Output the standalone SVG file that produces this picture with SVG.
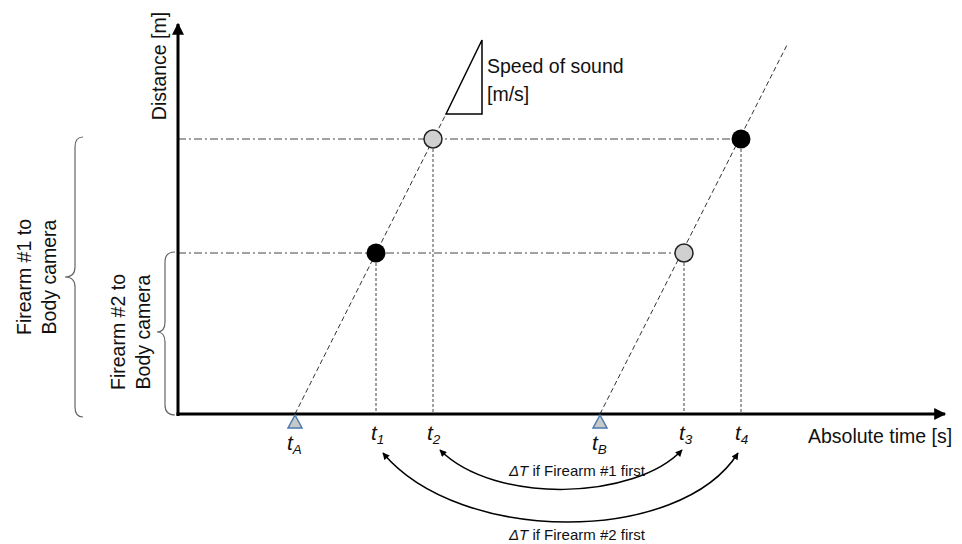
<svg xmlns="http://www.w3.org/2000/svg" width="962" height="544" viewBox="0 0 962 544">
<style>
text{font-family:"Liberation Sans",Arial,sans-serif;fill:#111}
.lbl{font-size:19.5px}
.t{font-size:21px;font-style:italic}
.sub{font-size:13.5px;font-style:italic}
.dt{font-size:15px}
.dashdot{stroke:#444;stroke-width:1;stroke-dasharray:8 3 2 3;fill:none}
.dot{stroke:#444;stroke-width:1;stroke-dasharray:3 2;fill:none}
.dash{stroke:#333;stroke-width:1;stroke-dasharray:5 3;fill:none}
.brace{stroke:#666;stroke-width:1.2;fill:none}
.arc{stroke:#000;stroke-width:1.5;fill:none;marker-start:url(#ah);marker-end:url(#ah)}
.tri{fill:#c8c8c8;stroke:#4a7ab0;stroke-width:1.5}
</style>
<defs>
<marker id="ah" viewBox="0 0 10 10" refX="9" refY="5" markerWidth="8" markerHeight="7" markerUnits="userSpaceOnUse" orient="auto-start-reverse">
<path d="M0,0 L10,5 L0,10 z" fill="#000"/>
</marker>
<marker id="axh" viewBox="0 0 10 10" refX="9" refY="5" markerWidth="14" markerHeight="12" markerUnits="userSpaceOnUse" orient="auto">
<path d="M0,0 L10,5 L0,10 z" fill="#000"/>
</marker>
</defs>
<g id="guides">
<line class="dashdot" x1="178" y1="139" x2="741" y2="139"/>
<line class="dashdot" x1="178" y1="253" x2="684" y2="253"/>
<line class="dot" x1="376" y1="253" x2="376" y2="414"/>
<line class="dot" x1="433" y1="139" x2="433" y2="414"/>
<line class="dot" x1="684" y1="253" x2="684" y2="414"/>
<line class="dot" x1="741" y1="139" x2="741" y2="414"/>
<line class="dash" x1="295" y1="414" x2="446" y2="114"/>
<line class="dash" x1="600" y1="414" x2="787" y2="45"/>
</g>
<g id="axes">
<line x1="178" y1="416" x2="178" y2="24" stroke="#000" stroke-width="3" marker-end="url(#axh)"/>
<line x1="176.5" y1="414" x2="945" y2="414" stroke="#000" stroke-width="3" marker-end="url(#axh)"/>
<text class="lbl" transform="translate(166,66) rotate(-90)" text-anchor="middle">Distance [m]</text>
<text class="lbl" x="808" y="443">Absolute time [s]</text>
</g>
<g id="speed-triangle">
<polygon points="446,114 482,40 482,114" fill="#fff" stroke="#000" stroke-width="1.5"/>
<text class="lbl" x="487" y="73">Speed of sound</text>
<text class="lbl" x="487" y="101">[m/s]</text>
</g>
<g id="points">
<circle cx="433" cy="139" r="9" fill="#d0d0d0" stroke="#222" stroke-width="1.5"/>
<circle cx="741" cy="139" r="9.5" fill="#000"/>
<circle cx="376" cy="253" r="9.5" fill="#000"/>
<circle cx="684" cy="253" r="9" fill="#d0d0d0" stroke="#222" stroke-width="1.5"/>
</g>
<g id="tA">
<polygon class="tri" points="295,415 288,428 302,428"/>
<text x="287" y="450"><tspan class="t">t</tspan><tspan class="sub" dy="4">A</tspan></text>
</g>
<g id="tB">
<polygon class="tri" points="600,415 593,428 607,428"/>
<text x="592" y="450"><tspan class="t">t</tspan><tspan class="sub" dy="4">B</tspan></text>
</g>
<g id="t1"><text x="371" y="440"><tspan class="t">t</tspan><tspan class="sub" dy="4">1</tspan></text></g>
<g id="t2"><text x="427" y="440"><tspan class="t">t</tspan><tspan class="sub" dy="4">2</tspan></text></g>
<g id="t3"><text x="679" y="440"><tspan class="t">t</tspan><tspan class="sub" dy="4">3</tspan></text></g>
<g id="t4"><text x="735" y="440"><tspan class="t">t</tspan><tspan class="sub" dy="4">4</tspan></text></g>
<g id="brace1">
<path class="brace" d="M83,137 Q75,137 75,147 L75,267 Q75,277 65,277 Q75,277 75,287 L75,407 Q75,417 83,417"/>
<text class="lbl" transform="translate(31,277) rotate(-90)" text-anchor="middle">Firearm #1 to</text>
<text class="lbl" transform="translate(56,277) rotate(-90)" text-anchor="middle">Body camera</text>
</g>
<g id="brace2">
<path class="brace" d="M175,252 Q165,252 165,262 L165,322 Q165,332 157,332 Q165,332 165,342 L165,405 Q165,415 175,415"/>
<text class="lbl" transform="translate(125,332) rotate(-90)" text-anchor="middle">Firearm #2 to</text>
<text class="lbl" transform="translate(150,332) rotate(-90)" text-anchor="middle">Body camera</text>
</g>
<g id="connectors">
<path class="arc" d="M440,450 C495,505 635,500 682,450"/>
<path class="arc" d="M383,453 C460,545 680,545 738,453"/>
</g>
<g id="dt-labels">
<text class="dt" x="577" y="476" text-anchor="middle"><tspan font-style="italic">ΔT</tspan> if Firearm #1 first</text>
<text class="dt" x="577" y="540" text-anchor="middle"><tspan font-style="italic">ΔT</tspan> if Firearm #2 first</text>
</g>
</svg>
